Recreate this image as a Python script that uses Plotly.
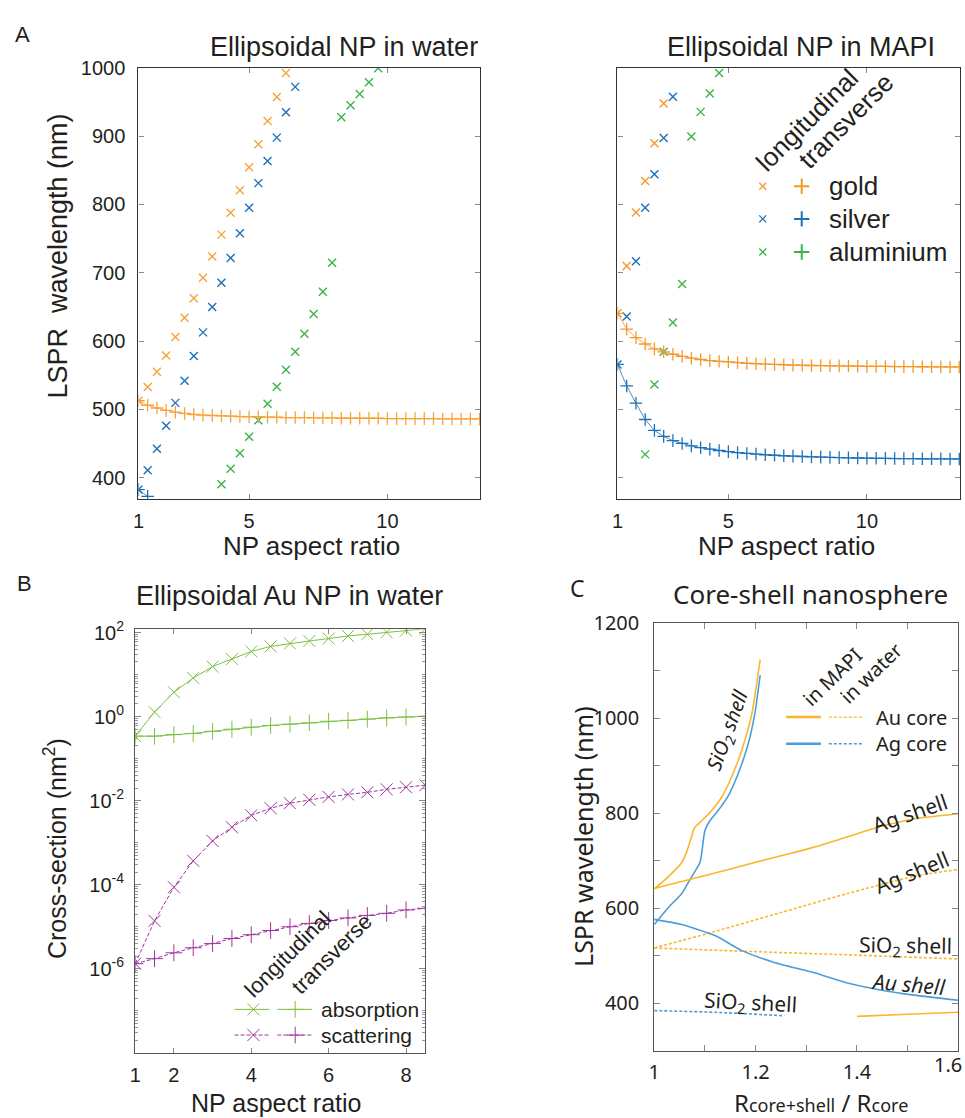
import plotly.graph_objects as go

W, H = 965, 1118
def fx(px): return px / W
def fy(py): return 1 - py / H

# ---------------- Panel A data ----------------
AR = [1.0, 1.333, 1.667, 2.0, 2.333, 2.667, 3.0, 3.333, 3.667, 4.0, 4.333, 4.667, 5.0,
      5.333, 5.667, 6.0, 6.333, 6.667, 7.0, 7.333, 7.667, 8.0, 8.333, 8.667, 9.0, 9.333,
      9.667, 10.0, 10.333, 10.667, 11.0, 11.333, 11.667, 12.0, 12.333, 12.667, 13.0, 13.333]

water_gold_long = [512.6, 532.7, 554.9, 578.7, 606, 634, 662.8, 692.8, 723.8, 755.8, 787.8,
                   820.8, 854.4, 888, 922, 957.1, 992.3]
water_silver_long = [382.5, 410.8, 442.3, 475.9, 509.5, 542, 578.1, 612.7, 649.9, 685.5, 721.7,
                     757.8, 795, 831.2, 863.7, 897.8, 934.9, 972.1]
water_alu_long = [390.2, 412.9, 435.6, 459.9, 484.2, 508.1, 533.2, 558, 584.3, 610.7, 639.6,
                  672.1, 714.5, 927.7, 945.3, 961.8, 978.8, 999.5]   # from AR index 9
water_gold_trans = [512.6, 506, 502, 498.5, 496, 494, 492.5, 491.5, 491, 490.5, 490, 489.5, 489,
                    489, 488.5, 488.5, 488, 488, 488, 487.5, 487.5, 487.5, 487, 487, 487, 487,
                    487, 486.5, 486.5, 486.5, 486.5, 486.5, 486.5, 486, 486, 486, 486, 486]
water_silver_trans = [382.5, 372.6]

mapi_gold_long = [640.6, 709.8, 788.3, 834.3, 889.5, 947.8]
mapi_silver_long = [565.8, 636, 717, 795, 844.1, 897.2, 957.7]
mapi_alu_long = [434.1, 536.3, 584.3, 627.2, 683.5, 899.3, 935.5, 962.3, 992.3]  # from AR index 3
mapi_gold_trans = [640.6, 617.4, 605, 595.7, 588.5, 584.3, 580.7, 577.6, 575, 573, 571.4, 570.4,
                   569.4, 568.3, 567.3, 566.8, 566.3, 565.8, 565.3, 564.8, 564.5, 564.2, 564,
                   563.8, 563.6, 563.4, 563.2, 563, 562.9, 562.8, 562.7, 562.6, 562.5, 562.4,
                   562.3, 562.2, 562.1, 562.1]
mapi_silver_trans = [565.8, 534.3, 509, 485.2, 469.2, 460.4, 454.2, 450.1, 446.5, 443.9, 441.8,
                     439.8, 438.2, 436.7, 435.5, 434.5, 433.6, 432.8, 432.1, 431.5, 431, 430.5,
                     430.1, 429.7, 429.4, 429.1, 428.8, 428.6, 428.4, 428.2, 428, 427.9, 427.8,
                     427.7, 427.6, 427.5, 427.4, 427.4]

A_yticks = [400, 500, 600, 700, 800, 900, 1000]
A_xticks = [1, 5, 10]

# ---------------- Panel B data ----------------
AR_B = [1, 1.5, 2, 2.5, 3, 3.5, 4, 4.5, 5, 5.5, 6, 6.5, 7, 7.5, 8, 8.5]
abs_long = [0.343, 1.28, 3.8, 8.3, 15.5, 23.4, 35.5, 46.8, 55, 63, 72, 83, 91, 102, 112, 123]
abs_trans = [0.343, 0.343, 0.372, 0.398, 0.447, 0.501, 0.562, 0.617, 0.661, 0.708, 0.776,
             0.813, 0.871, 0.933, 0.977, 1.02]
sca_long = [1.32e-6, 1.38e-5, 8.7e-5, 3.7e-4, 1.10e-3, 2.34e-3, 4.47e-3, 6.6e-3, 8.7e-3,
            1.05e-2, 1.23e-2, 1.41e-2, 1.58e-2, 1.86e-2, 2.09e-2, 2.34e-2]
sca_trans = [1.32e-6, 1.74e-6, 2.40e-6, 3.16e-6, 3.98e-6, 5.25e-6, 6.46e-6, 8.13e-6, 1.0e-5,
             1.20e-5, 1.41e-5, 1.62e-5, 1.86e-5, 2.09e-5, 2.51e-5, 2.75e-5]
B_yticks = [1e-6, 1e-4, 1e-2, 1, 100]
B_yticktext = ["10<sup>-6</sup>", "10<sup>-4</sup>", "10<sup>-2</sup>", "10<sup>0</sup>",
               "10<sup>2</sup>"]
B_xticks = [1, 2, 4, 6, 8]

# ---------------- Panel C data ----------------
au_sio2_mapi_x = [1.0, 1.028, 1.054, 1.064, 1.072, 1.079, 1.094, 1.11, 1.133, 1.152, 1.172, 1.192, 1.209]
au_sio2_mapi_y = [641, 667, 696, 719, 745, 769, 785, 802, 834, 875, 931, 1007, 1124]
ag_sio2_mapi_x = [1.0, 1.028, 1.054, 1.074, 1.09, 1.094, 1.1, 1.11, 1.126, 1.146, 1.165, 1.185, 1.198, 1.209]
ag_sio2_mapi_y = [566, 602, 631, 667, 696, 719, 764, 785, 806, 837, 882, 945, 1007, 1091]
au_ag_mapi_x = [1.0, 1.054, 1.12, 1.185, 1.25, 1.316, 1.381, 1.446, 1.512, 1.6]
au_ag_mapi_y = [642, 656.5, 674.6, 692.8, 710.9, 729, 750.7, 772.5, 788.4, 799.3]
au_ag_water_x = [1.0, 1.12, 1.25, 1.381, 1.512, 1.6]
au_ag_water_y = [516.7, 551.4, 591.3, 631.2, 667.4, 681.9]
au_sio2_water_x = [1.0, 1.185, 1.381, 1.6]
au_sio2_water_y = [516.7, 509.4, 502.2, 493.5]
ag_au_mapi_x = [1.0, 1.054, 1.12, 1.172, 1.237, 1.316, 1.381, 1.446, 1.512, 1.6]
ag_au_mapi_y = [576.8, 566, 542.8, 511.6, 486.2, 464.5, 442.8, 428.3, 417.4, 406.5]
ag_sio2_water_x = [1.0, 1.12, 1.257]
ag_sio2_water_y = [384.8, 381.2, 373.9]
au_low_mapi_x = [1.4, 1.5, 1.6]
au_low_mapi_y = [372.5, 377, 381.2]
C_yticks = [400, 600, 800, 1000, 1200]
C_xticks = [1.0, 1.2, 1.4]
C_xticktext = ["1", "1.2", "1.4"]
C_last_xlabel = "1.6"

# ---------------- styles ----------------
FA = "Liberation Sans"
FC = "Noto Sans"
TXT = "#231F20"
OR_A, BL_A, GR_A = "#F8A33A", "#1C72BA", "#3BB44A"
OR_AM = "#F4982C"
GR_B, PU_B = "#7CC143", "#A0359B"
OR_C, BL_C = "#FBB62B", "#4A9DDA"

fig = go.Figure()

def xmark(x, y, color, xa, ya, size=8, width=1.4):
    fig.add_trace(go.Scatter(x=x, y=y, mode="markers", xaxis=xa, yaxis=ya, showlegend=False,
                             marker=dict(symbol="x-thin", size=size, color=color,
                                         line=dict(color=color, width=width))))

def pmark(x, y, color, xa, ya, size=9, width=1.3):
    fig.add_trace(go.Scatter(x=x, y=y, mode="lines+markers", xaxis=xa, yaxis=ya,
                             showlegend=False, line=dict(color=color, width=0.8),
                             marker=dict(symbol="cross-thin", size=size, color=color,
                                         line=dict(color=color, width=width))))

xmark(AR[:len(water_gold_long)], water_gold_long, OR_A, "x", "y")
xmark(AR[:len(water_silver_long)], water_silver_long, BL_A, "x", "y")
xmark(AR[9:9 + len(water_alu_long)], water_alu_long, GR_A, "x", "y")
pmark(AR[:len(water_gold_trans)], water_gold_trans, OR_A, "x", "y")
pmark(AR[:len(water_silver_trans)], water_silver_trans, BL_A, "x", "y")

xmark(AR[:len(mapi_gold_long)], mapi_gold_long, OR_AM, "x2", "y2")
xmark(AR[:len(mapi_silver_long)], mapi_silver_long, BL_A, "x2", "y2")
xmark(AR[3:3 + len(mapi_alu_long)], mapi_alu_long, GR_A, "x2", "y2")
pmark(AR[:len(mapi_gold_trans)], mapi_gold_trans, OR_AM, "x2", "y2")
pmark(AR[:len(mapi_silver_trans)], mapi_silver_trans, BL_A, "x2", "y2")

def bline(x, y, color, symbol, dash):
    fig.add_trace(go.Scatter(x=x, y=y, mode="lines+markers", xaxis="x3", yaxis="y3",
                             showlegend=False, line=dict(color=color, width=1, dash=dash),
                             marker=dict(symbol=symbol, size=12, color=color,
                                         line=dict(color=color, width=1))))
bline(AR_B, abs_long, GR_B, "x-thin", "solid")
bline(AR_B, abs_trans, GR_B, "cross-thin", "solid")
bline(AR_B, sca_long, PU_B, "x-thin", "4px,2px")
bline(AR_B, sca_trans, PU_B, "cross-thin", "4px,2px")

def cline(x, y, color, dash="solid"):
    fig.add_trace(go.Scatter(x=x, y=y, mode="lines", xaxis="x4", yaxis="y4", showlegend=False,
                             line=dict(color=color, width=1.6, dash=dash, shape="spline",
                                       smoothing=0.6)))
cline(au_sio2_mapi_x, au_sio2_mapi_y, OR_C)
cline(ag_sio2_mapi_x, ag_sio2_mapi_y, BL_C)
cline(au_ag_mapi_x, au_ag_mapi_y, OR_C)
cline(au_ag_water_x, au_ag_water_y, OR_C, "3px,2px")
cline(au_sio2_water_x, au_sio2_water_y, OR_C, "3px,2px")
cline(ag_au_mapi_x, ag_au_mapi_y, BL_C)
cline(ag_sio2_water_x, ag_sio2_water_y, BL_C, "3px,2px")
cline(au_low_mapi_x, au_low_mapi_y, OR_C)

def canvas(x, y, mode, color, symbol=None, size=8, dash="solid", lw=1.0, mlw=1.4):
    fig.add_trace(go.Scatter(x=x, y=y, mode=mode, xaxis="x5", yaxis="y5", showlegend=False,
                             line=dict(color=color, width=lw, dash=dash),
                             marker=dict(symbol=symbol or "circle", size=size, color=color,
                                         line=dict(color=color, width=mlw))))
for yy, c in [(174.5, OR_AM), (207.5, BL_A), (241, GR_A)]:
    canvas([761.5], [yy], "markers", c, "x-thin", 7, mlw=1.3)
    canvas([800.7], [yy], "markers", c, "cross-thin", 11, mlw=2)
for yy, c, d in [(1008, GR_B, "solid"), (1034, PU_B, "4px,2px")]:
    canvas([230, 265], [yy, yy], "lines", c, dash=d)
    canvas([249], [yy], "markers", c, "x-thin", 12, mlw=1)
    canvas([273, 308], [yy, yy], "lines", c, dash=d)
    canvas([291], [yy], "markers", c, "cross-thin", 12, mlw=1)
for yy, c in [(712, OR_C), (739, BL_C)]:
    canvas([785, 820], [yy, yy], "lines", c, lw=2.5)
    canvas([828, 862], [yy, yy], "lines", c, dash="3px,2px", lw=1.4)

def ax(font, size, **kw):
    d = dict(showline=True, linecolor="#333333", linewidth=1.3, mirror="ticks", ticks="inside",
             ticklen=5, tickcolor="#888888", showgrid=False, zeroline=False,
             tickfont=dict(family=font, size=size, color=TXT), fixedrange=True)
    d.update(kw)
    return d

ydomA = [fy(491), fy(54.5)]
fig.update_layout(
    width=W, height=H, margin=dict(l=0, r=0, t=0, b=0),
    paper_bgcolor="white", plot_bgcolor="rgba(0,0,0,0)",
    xaxis=ax(FA, 20, domain=[fx(133.3), fx(477.3)], range=[1, 13.36], tickmode="array",
             tickvals=A_xticks, anchor="y", ticklabelstandoff=4),
    yaxis=ax(FA, 20, domain=ydomA, range=[369, 1000], tickmode="array", tickvals=A_yticks,
             anchor="x", ticklabelstandoff=8),
    xaxis2=ax(FA, 20, domain=[fx(615.3), fx(960)], range=[1, 13.36], tickmode="array",
              tickvals=A_xticks, anchor="y2", ticklabelstandoff=4),
    yaxis2=ax(FA, 20, domain=ydomA, range=[369, 1000], tickmode="array", tickvals=A_yticks,
              anchor="x2", showticklabels=False),
    xaxis3=ax(FA, 20, domain=[fx(130), fx(422)], range=[1, 8.5], tickmode="array",
              tickvals=B_xticks, anchor="y3", ticklabelstandoff=4, linecolor="#555555"),
    yaxis3=ax(FA, 20, domain=[fy(1052), fy(623)], type="log", range=[-8, 2.08],
              tickmode="array", tickvals=B_yticks, ticktext=B_yticktext, anchor="x3",
              ticklabelstandoff=6, linecolor="#555555", ticklen=6,
              minor=dict(ticks="inside", ticklen=3, dtick="D1", tickcolor="#999999")),
    xaxis4=ax(FC, 20, domain=[fx(652.3), fx(958.3)], range=[1, 1.6], tickmode="array",
              tickvals=C_xticks, ticktext=C_xticktext, anchor="y4", ticklabelstandoff=3,
              linecolor="#555555", linewidth=1, ticklen=6,
              minor=dict(ticks="inside", ticklen=6, dtick=0.1, tickcolor="#888888")),
    yaxis4=ax(FC, 20, domain=[fy(1050), fy(617.2)], range=[300, 1200], tickmode="array",
              tickvals=C_yticks, anchor="x4", ticklabelstandoff=10,
              linecolor="#555555", linewidth=1, ticklen=6,
              minor=dict(ticks="inside", ticklen=6, dtick=100, tickcolor="#888888")),
    xaxis5=dict(domain=[0, 1], range=[0, W], visible=False, anchor="y5", fixedrange=True),
    yaxis5=dict(domain=[0, 1], range=[H, 0], visible=False, anchor="x5", fixedrange=True),
)

ann = []
def T(text, x, y, size, font=FA, angle=0, xanchor="center", italic=False):
    ann.append(dict(text=text, x=fx(x), y=fy(y), xref="paper", yref="paper",
                    xanchor=xanchor, yanchor="middle", showarrow=False, textangle=angle,
                    font=dict(family=font, size=size, color=TXT,
                              style="italic" if italic else "normal")))

T("A", 17, 21, 22)
T("Ellipsoidal NP in water", 340, 33, 27)
T("LSPR\u00a0 wavelength (nm)", 52, 245, 27, angle=-90)
T("NP aspect ratio", 307, 539, 26)
T("Ellipsoidal NP in MAPI", 800, 33, 27)
T("NP aspect ratio", 785, 539, 26)
T("longitudinal", 806, 107, 26, angle=-45)
T("transverse", 845, 108, 26, angle=-45)
T("gold", 826, 174.5, 26, xanchor="left")
T("silver", 826, 207.5, 26, xanchor="left")
T("aluminium", 826, 241, 26, xanchor="left")
T("B", 19, 577, 22)
T("Ellipsoidal Au NP in water", 285, 589, 27)
T("Cross-section (nm<sup>2</sup>)", 50, 845, 25, angle=-90)
T("NP aspect ratio", 272, 1103, 25)
T("longitudinal", 283, 952, 22, angle=-45)
T("transverse", 328, 951, 22, angle=-45)
T("absorption", 315, 1008, 21, xanchor="left")
T("scattering", 315, 1034, 21, xanchor="left")
T("C", 575, 581, 23, font=FC)
T("Core-shell nanosphere", 810, 587, 26, font=FC)
T("LSPR wavelength (nm)", 580, 833, 25, font=FC, angle=-90)
T("R<span style='font-size:18px'>core+shell</span> / R<span style='font-size:18px'>core</span>",
  820, 1102, 24, font=FC)
T(C_last_xlabel, 964, 1064, 20, font=FC, xanchor="right")
T("SiO<sub>2</sub> shell", 727, 725, 20, font=FC, angle=-70, italic=True)
T("Ag shell", 910, 809, 21, font=FC, angle=-19)
T("Ag shell", 912, 869, 21, font=FC, angle=-22)
T("SiO<sub>2</sub> shell", 905, 944, 21, font=FC, angle=1)
T("Au shell", 908, 982, 21, font=FC, angle=5, italic=True)
T("SiO<sub>2</sub> shell", 749, 1002, 21, font=FC, angle=3)
T("in MAPI", 832, 671, 20, font=FC, angle=-44)
T("in water", 870, 668, 20, font=FC, angle=-44)
T("Au core", 873, 712, 20, font=FC, xanchor="left")
T("Ag core", 873, 739, 20, font=FC, xanchor="left")

fig.update_layout(annotations=ann)
fig.write_html("out.html")
